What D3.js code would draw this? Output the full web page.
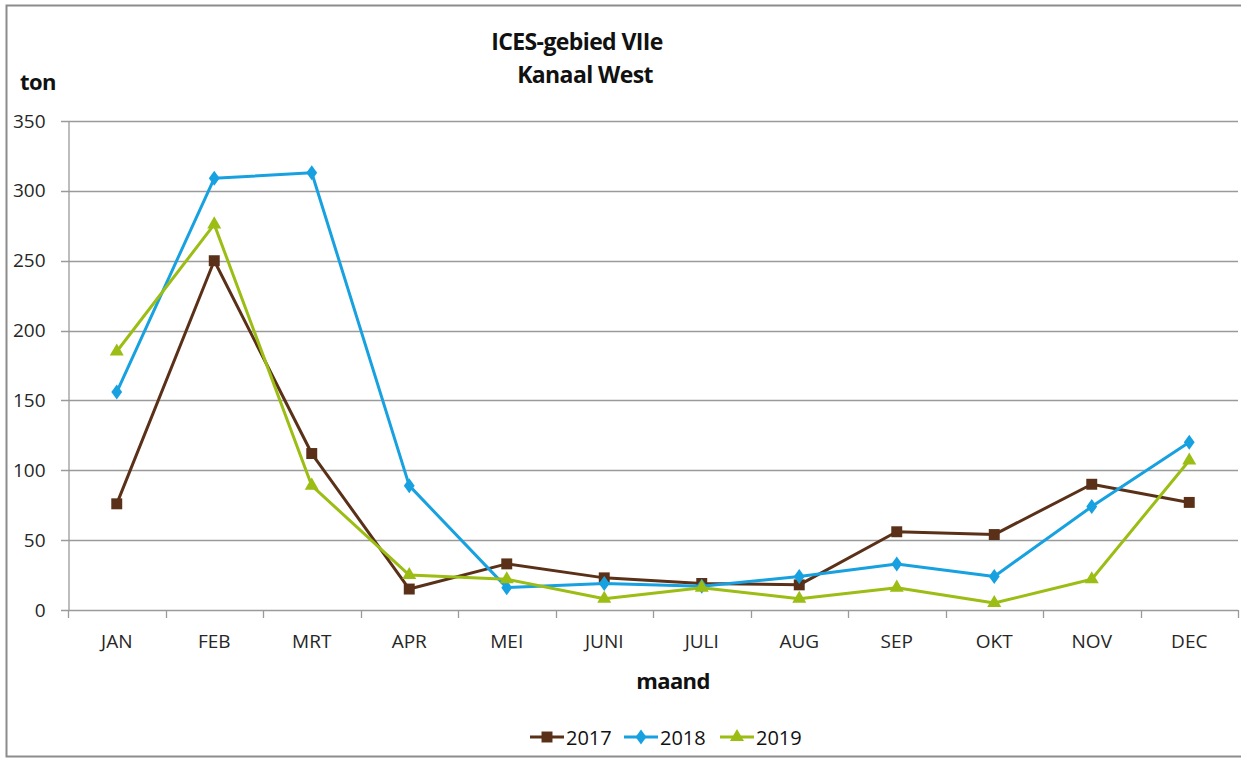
<!DOCTYPE html>
<html>
<head>
<meta charset="utf-8">
<script src="https://cdn.jsdelivr.net/npm/d3@7"></script>
<style>
body { margin:0; background:#fff; }
svg { display:block; font-family:"Open Sans", sans-serif; }
</style>
</head>
<body>
<div id="chart"></div>
<script>
var maanden = ["JAN","FEB","MRT","APR","MEI","JUNI","JULI","AUG","SEP","OKT","NOV","DEC"];
var jaren = ["2017","2018","2019"];
var v2017 = [76,250,112,15,33,23,19,18,56,54,90,77];
var v2018 = [156,309,313,89,16,19,17,24,33,24,74,120];
var v2019 = [185,276,89,25,22,8,16,8,16,5,22,107];
var yTicks = [0,50,100,150,200,250,300,350];

var kleuren = ["#5a3118","#17a1e0","#9bbd14"];
var series = [v2017, v2018, v2019];

var width = 1241, height = 758;
var padding = {left:68, right:3, top:121, bottom:148};

var svg = d3.select("#chart")
	.append("svg")
	.attr("width", width)
	.attr("height", height);

// kader
svg.append("rect")
	.attr("x",6.5).attr("y",5.5)
	.attr("width",width+10).attr("height",751)
	.attr("fill","none")
	.attr("stroke","#8c8c8c")
	.attr("stroke-width",2);

var x = d3.scaleBand().domain(maanden).range([padding.left, width-padding.right]);
var y = d3.scaleLinear().domain([0,350]).range([height-padding.bottom, padding.top]);

// rasterlijnen
svg.append("g")
	.selectAll("line")
	.data(yTicks)
	.join("line")
	.attr("x1", padding.left-7)
	.attr("x2", width-padding.right)
	.attr("y1", function(d){ return Math.round(y(d))+0.5; })
	.attr("y2", function(d){ return Math.round(y(d))+0.5; })
	.attr("stroke","#9a9a9a")
	.attr("stroke-width",1.3);

// y-as
var yAxis = svg.append("g")
	.attr("transform","translate("+(padding.left+0.5)+",0)")
	.call(d3.axisLeft(y).tickValues(yTicks).tickSize(0).tickPadding(23));
yAxis.select(".domain").attr("stroke","#9a9a9a").attr("stroke-width",1.3);
yAxis.selectAll("text")
	.style("font-family","'Open Sans', sans-serif")
	.style("font-size","19px")
	.attr("fill","#262626");

// x-as
var xAxis = svg.append("g")
	.attr("transform","translate(0,"+(Math.round(y(0))+0.5)+")")
	.call(d3.axisBottom(x).tickSizeInner(0).tickSizeOuter(0).tickPadding(24));
xAxis.select(".domain").remove();
xAxis.selectAll("text")
	.style("font-family","'Open Sans', sans-serif")
	.style("font-size","19px")
	.attr("fill","#262626");

var grens = maanden.map(function(m){ return x(m); }).concat([x.range()[1]]);
svg.append("g")
	.selectAll("line")
	.data(grens)
	.join("line")
	.attr("x1", function(d){ return Math.round(d)+0.5; })
	.attr("x2", function(d){ return Math.round(d)+0.5; })
	.attr("y1", y(0))
	.attr("y2", y(0)+8)
	.attr("stroke","#9a9a9a")
	.attr("stroke-width",1.3);

// lijnen
var line = d3.line()
	.x(function(d,i){ return x(maanden[i]) + x.bandwidth()/2; })
	.y(function(d){ return y(d); });

var symbolen = [d3.symbolSquare, d3.symbolDiamond, d3.symbolTriangle];
var grootte = [120, 65, 85];

function marker(g, j, cx, cy) {
	var s = d3.symbol().type(symbolen[j]).size(grootte[j]);
	g.append("path")
		.attr("d", s)
		.attr("transform","translate("+cx+","+cy+")" + (j==1 ? " scale(1.25,1)" : ""))
		.attr("fill", kleuren[j]);
}

series.forEach(function(data, j){
	svg.append("path")
		.datum(data)
		.attr("d", line)
		.attr("fill","none")
		.attr("stroke", kleuren[j])
		.attr("stroke-width",3)
		.attr("stroke-linejoin","round");
	var g = svg.append("g");
	data.forEach(function(d,i){
		marker(g, j, x(maanden[i]) + x.bandwidth()/2, y(d));
	});
});

// titels
function kop(tekst, tx, ty, size, anchor) {
	svg.append("text")
		.text(tekst)
		.attr("x",tx).attr("y",ty)
		.style("text-anchor",anchor)
		.style("font-size",size+"px")
		.style("font-weight","bold")
		.style("letter-spacing","-0.6px")
		.attr("fill","#111");
}
kop("ICES-gebied VIIe", 577, 50, 23, "middle");
kop("Kanaal West", 585, 83, 23, "middle");
kop("ton", 20, 90, 22, "start");
kop("maand", 673, 689, 22, "middle");

// legenda
var legX = [530, 624, 720];
jaren.forEach(function(jaar, j){
	var lg = svg.append("g").attr("transform","translate("+legX[j]+",737)");
	lg.append("line")
		.attr("x1",0).attr("x2",34)
		.attr("stroke",kleuren[j])
		.attr("stroke-width",3);
	marker(lg, j, 17, 0);
	lg.append("text")
		.text(jaar)
		.attr("x",36).attr("y",8)
		.style("font-size","20px")
		.attr("fill","#111");
});
</script>
</body>
</html>
